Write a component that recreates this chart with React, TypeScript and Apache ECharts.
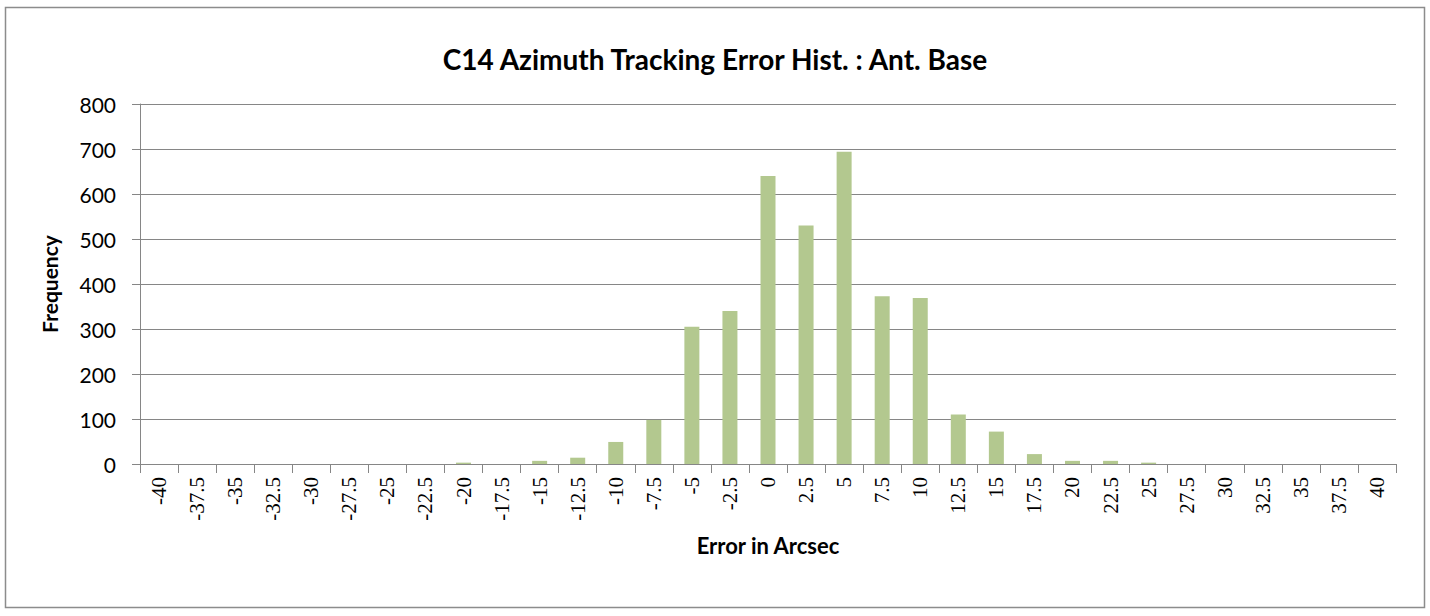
import React, { useEffect, useRef } from "react";
import * as echarts from "echarts";

const categories: string[] = [
  "-40", "-37.5", "-35", "-32.5", "-30", "-27.5", "-25", "-22.5", "-20", "-17.5",
  "-15", "-12.5", "-10", "-7.5", "-5", "-2.5", "0", "2.5", "5", "7.5",
  "10", "12.5", "15", "17.5", "20", "22.5", "25", "27.5", "30", "32.5",
  "35", "37.5", "40",
];

const frequency: number[] = [
  0, 0, 0, 0, 0, 0, 0, 0, 3, 0,
  7, 14, 49, 98, 305, 340, 640, 530, 694, 373,
  369, 110, 72, 22, 7, 7, 3, 0, 0, 0,
  0, 0, 0,
];

const titleText = "C14 Azimuth Tracking Error Hist. : Ant. Base";
const xAxisName = "Error in Arcsec";
const yAxisName = "Frequency";

export default function App() {
  const ref = useRef<HTMLDivElement>(null);

  useEffect(() => {
    document.body.style.margin = "0";
    if (!ref.current) return;
    const chart = echarts.init(ref.current, undefined, { renderer: "svg" });
    const axisGray = "#868686";
    chart.setOption({
      animation: false,
      backgroundColor: "#ffffff",
      title: {
        text: titleText,
        left: "center",
        top: 40,
        textStyle: {
          fontFamily: "Lato",
          fontWeight: "bold",
          fontSize: 28,
          color: "#000000",
        },
      },
      graphic: [
        {
          type: "rect",
          shape: { x: 5.5, y: 7.5, width: 1419, height: 600 },
          style: { fill: "none", stroke: "#8c8c8c", lineWidth: 1.5 },
          silent: true,
        },
      ],
      grid: { left: 140, right: 34, top: 104, bottom: 152 },
      xAxis: {
        type: "category",
        data: categories,
        boundaryGap: true,
        name: xAxisName,
        nameLocation: "middle",
        nameGap: 70,
        nameTextStyle: {
          fontFamily: "Lato",
          fontWeight: "bold",
          fontSize: 22,
          color: "#000000",
        },
        axisLine: { show: true, lineStyle: { color: axisGray, width: 1 } },
        axisTick: {
          show: true,
          interval: 0,
          length: 9,
          lineStyle: { color: axisGray },
        },
        axisLabel: {
          interval: 0,
          rotate: 90,
          margin: 13,
          fontFamily: "serif",
          fontSize: 21,
          color: "#000000",
        },
        splitLine: { show: false },
      },
      yAxis: {
        type: "value",
        min: 0,
        max: 800,
        interval: 100,
        name: yAxisName,
        nameLocation: "middle",
        nameGap: 80,
        nameTextStyle: {
          fontFamily: "Lato",
          fontWeight: "bold",
          fontSize: 21,
          color: "#000000",
        },
        axisLine: { show: true, lineStyle: { color: axisGray, width: 1 } },
        axisTick: { show: true, length: 8, lineStyle: { color: axisGray } },
        axisLabel: {
          margin: 24,
          fontFamily: "Lato",
          fontSize: 21,
          color: "#000000",
        },
        splitLine: { show: true, lineStyle: { color: axisGray, width: 1 } },
      },
      series: [
        {
          type: "bar",
          data: frequency,
          barWidth: 15,
          itemStyle: { color: "#B3C88F" },
        },
      ],
    });
    return () => {
      chart.dispose();
    };
  }, []);

  return <div ref={ref} style={{ width: 1430, height: 616 }} />;
}
